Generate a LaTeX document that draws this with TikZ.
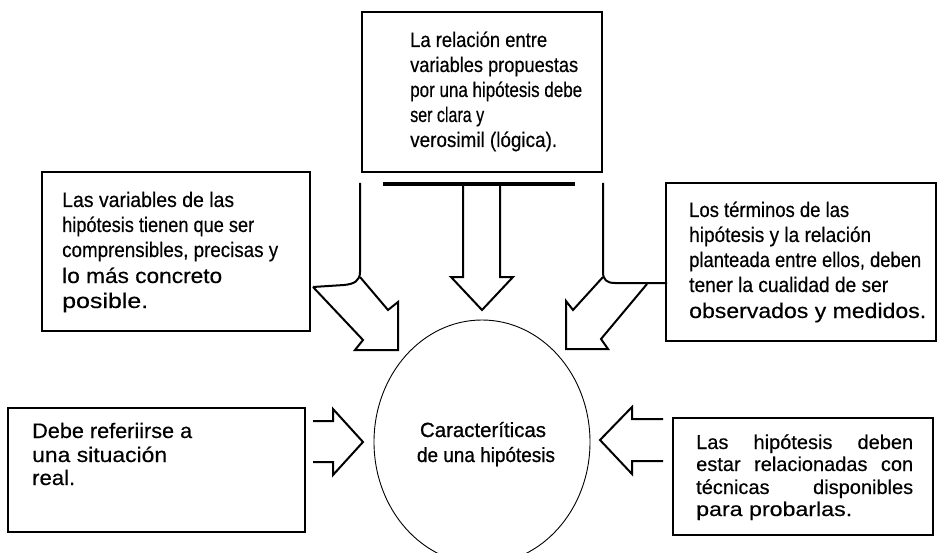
\documentclass[tikz,border=0pt]{standalone}
\usepackage{fontspec}
\setmainfont{Liberation Sans}[FakeBold=0.4]
\newfontfamily\ellfont{Liberation Sans}[FakeBold=0.9]
\usepackage{graphicx}
\usetikzlibrary{shapes.geometric}
\newcommand\fw[2]{\resizebox{#1pt}{\height}{#2}}
\begin{document}
\begin{tikzpicture}[x=1pt,y=-1pt,
  box/.style={draw, line width=1.4pt, inner sep=0pt, outer sep=0pt},
  txt/.style={anchor=base west, inner sep=0pt, font=\fontsize{21}{25}\selectfont},
  txtsm/.style={anchor=base west, inner sep=0pt, font=\fontsize{20}{22}\selectfont},
  ctxt/.style={anchor=base, inner sep=0pt, font=\ellfont\fontsize{20.5}{24}\selectfont},
  arr/.style={line width=2pt, line join=miter},
  bar/.style={line width=3.5pt},
]
\useasboundingbox (0,0) rectangle (944,553);

% boxes
\node[box, minimum width=240pt, minimum height=160pt] (topbox) at (482,92) {};
\node[box, minimum width=268pt, minimum height=159pt] (leftbox) at (176,251.5) {};
\node[box, minimum width=270pt, minimum height=158pt] (rightbox) at (801,262) {};
\node[box, minimum width=297pt, minimum height=124pt] (blbox) at (156.5,470) {};
\node[box, minimum width=260pt, minimum height=117pt] (brbox) at (803,476.5) {};

% central ellipse
\node[draw, ellipse, line width=0.9pt, minimum width=216pt, minimum height=244pt, inner sep=0pt] (ell) at (482,442) {};
\node[ctxt] (c1) at (483,437) {\fw{126}{Caracteríticas}};
\node[ctxt] (c2) at (486,462) {\fw{138}{de una hipótesis}};

% top box text
\node[txt] (a1) at (410,47)  {\fw{137}{La relación entre}};
\node[txt] (a2) at (410,72)  {\fw{168}{variables propuestas}};
\node[txt] (a3) at (410,97)  {\fw{172}{por una hipótesis debe}};
\node[txt] (a4) at (410,122) {\fw{74}{ser clara y}};
\node[txt] (a5) at (410,147) {\fw{147}{verosimil (lógica).}};

% left box text
\node[txt] (b1) at (62,207) {\fw{172}{Las variables de las}};
\node[txt] (b2) at (62,232) {\fw{192}{hipótesis tienen que ser}};
\node[txt] (b3) at (62,257) {\fw{216}{comprensibles, precisas y}};
\node[txt] (b4) at (62,283) {\fw{160}{lo más concreto}};
\node[txt] (b5) at (62,308) {\fw{86}{posible.}};

% right box text
\node[txt] (r1) at (689,217) {\fw{160}{Los términos de las}};
\node[txt] (r2) at (689,242) {\fw{182}{hipótesis y la relación}};
\node[txt] (r3) at (689,267) {\fw{232}{planteada entre ellos, deben}};
\node[txt] (r4) at (689,292) {\fw{199}{tener la cualidad de ser}};
\node[txt] (r5) at (689,318) {\fw{237}{observados y medidos.}};

% bottom-left box text
\node[txt] (d1) at (32,438) {\fw{160}{Debe referiirse a}};
\node[txt] (d2) at (32,462) {\fw{135}{una situación}};
\node[txt] (d3) at (32,485) {\fw{43}{real.}};

% bottom-right box text (justified)
\node[txtsm] (e1) at (696,449) {\makebox[217pt][l]{Las\hfill hipótesis\hfill deben}};
\node[txtsm] (e2) at (696,471) {\makebox[217pt][l]{estar\hfill relacionadas\hfill con}};
\node[txtsm] (e3) at (696,494) {\makebox[217pt][l]{técnicas\hfill disponibles}};
\node[txtsm] (e4) at (696,516) {\fw{156}{para probarlas.}};

% composite block arrows
\draw[bar] (383,184) -- (575,184);
\draw[arr] (463,186) -- (463,277) -- (451,277) -- (482,310) -- (513,277) -- (500,277) -- (500,186);
% left diagonal
\draw[arr] (360,183) -- (360,272) .. controls (360,281) and (354,284) .. (344,285) -- (313,287);
\draw[arr] (313,287) -- (363,340) -- (355,350) -- (398,350) -- (398,302) -- (388,310) -- (360,277);
% right diagonal
\draw[arr] (603,183) -- (603,272) .. controls (603,280) and (607,283) .. (615,283) -- (667,283);
\draw[arr] (603,277) -- (573,310) -- (566,301) -- (566,349) -- (608,349) -- (601,339) -- (647,284);
% left horizontal arrow
\draw[arr] (313,421) -- (333,421) -- (333,409) -- (363,442) -- (333,475) -- (333,462) -- (313,462);
% right horizontal arrow
\draw[arr] (663,419) -- (632,419) -- (632,407) -- (600,440) -- (632,474) -- (632,461) -- (663,461);
\end{tikzpicture}
\end{document}
